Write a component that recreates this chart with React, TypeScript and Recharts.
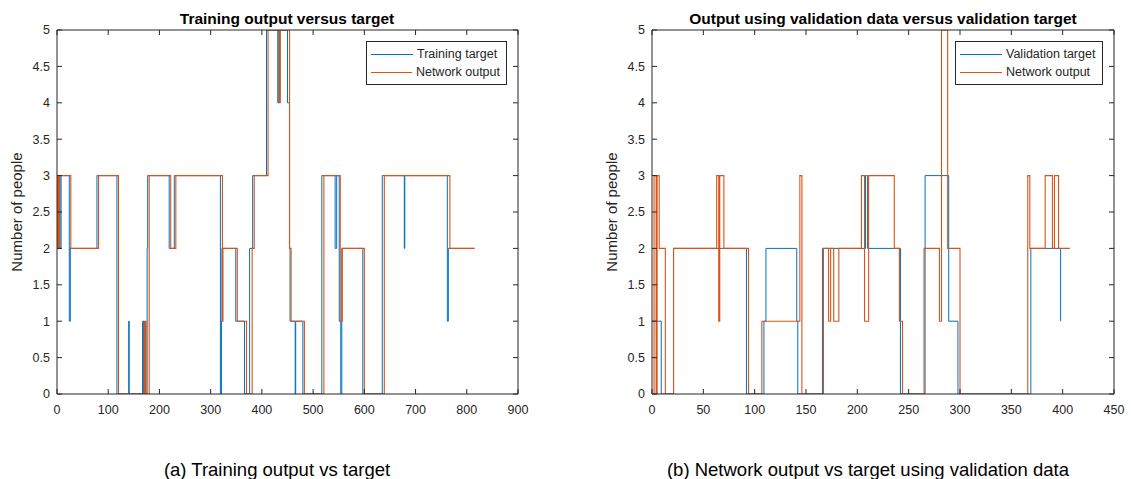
import React from 'react';
import { LineChart, Line, XAxis, YAxis, Legend } from 'recharts';

// step points [sample, value] (value holds until next point)
const trainTarget: [number, number][] = [
  [0, 3], [6, 2], [8, 3], [24, 1], [26, 2], [78, 3], [117, 0], [140, 1], [141, 0],
  [167, 1], [169, 0], [176, 2], [177, 3], [219, 2], [229, 3], [319, 0], [321, 1],
  [322, 2], [349, 1], [366, 0], [376, 2], [382, 3], [409, 5], [431, 4], [433, 5],
  [450, 4], [454, 2], [455, 1], [465, 0], [466, 1], [480, 0], [517, 3], [543, 2],
  [546, 3], [551, 1], [554, 0], [556, 2], [597, 0], [635, 3], [678, 2], [679, 3],
  [762, 1], [764, 2], [815, 2],
];
const trainOutput: [number, number][] = [
  [0, 2], [1, 3], [2, 2], [3, 3], [4, 2], [5, 3], [27, 2], [81, 3], [120, 0],
  [170, 1], [172, 0], [173, 1], [174, 0], [180, 3], [222, 2], [232, 3], [323, 1],
  [324, 2], [352, 1], [370, 0], [381, 2], [385, 3], [412, 5], [434, 4], [436, 5],
  [454, 2], [457, 1], [483, 0], [521, 3], [553, 1], [557, 2], [600, 0], [639, 3],
  [767, 2], [815, 2],
];
const valTarget: [number, number][] = [
  [0, 1], [9, 0], [21, 2], [92, 0], [109, 1], [111, 2], [141, 1], [142, 0],
  [166, 2], [208, 3], [210, 2], [242, 0], [266, 3], [289, 1], [298, 0], [369, 2],
  [398, 1],
];
const valOutput: [number, number][] = [
  [0, 0], [2, 3], [4, 0], [5, 3], [7, 2], [13, 0], [21, 2], [63, 3], [65, 1],
  [66, 3], [70, 2], [94, 0], [107, 1], [144, 3], [146, 0], [167, 2], [172, 1],
  [174, 2], [177, 1], [182, 2], [204, 3], [207, 1], [211, 3], [236, 2], [241, 1],
  [244, 0], [265, 2], [280, 1], [282, 5], [288, 2], [300, 0], [366, 3], [368, 2],
  [383, 3], [390, 2], [392, 3], [396, 2], [407, 2],
];

const trainTicks = [0, 100, 200, 300, 400, 500, 600, 700, 800, 900];
const valTicks = [0, 50, 100, 150, 200, 250, 300, 350, 400, 450];
const yTicks = [0, 0.5, 1, 1.5, 2, 2.5, 3, 3.5, 4, 4.5, 5];

const BLUE = '#0072BD';
const ORANGE = '#D95319';
const AXIS = '#262626';
const FONT = '"Liberation Sans", Arial, Helvetica, sans-serif';

const toPoints = (pairs: [number, number][]) => pairs.map(([x, y]) => ({ x, y }));

const BoxLegend = ({ payload, order }: any) => {
  const items = [...(payload || [])].sort(
    (a: any, b: any) => order.indexOf(a.value) - order.indexOf(b.value)
  );
  return (
    <div
      style={{
        border: '1px solid #262626',
        background: '#fff',
        padding: '3px 6px 3px 4px',
        fontFamily: FONT,
        fontSize: 12.5,
        color: AXIS,
        lineHeight: '18px',
      }}
    >
      {items.map((p: any) => (
        <div key={p.value} style={{ display: 'flex', alignItems: 'center', whiteSpace: 'nowrap' }}>
          <span style={{ display: 'inline-block', width: 42, height: 0, borderTop: `1.2px solid ${p.color}`, marginRight: 4 }} />
          {p.value}
        </div>
      ))}
    </div>
  );
};

type PanelProps = {
  left: number;
  width: number;
  marginRight: number;
  xMax: number;
  xTicks: number[];
  target: [number, number][];
  output: [number, number][];
  targetName: string;
  legendLeft: number;
  legendWidth: number;
};

const Panel = (p: PanelProps) => {
  const tickStyle = { fontSize: 12.5, fill: AXIS, fontFamily: FONT };
  return (
    <div style={{ position: 'absolute', left: p.left, top: 0, width: p.width, height: 450 }}>
      <LineChart width={p.width} height={450} margin={{ top: 29, right: p.marginRight - 1, bottom: 26, left: 0 }}>
        <XAxis
          type="number"
          dataKey="x"
          domain={[0, p.xMax]}
          ticks={p.xTicks}
          allowDataOverflow
          height={30}
          stroke={AXIS}
          tickSize={-5}
          tickMargin={16}
          tick={tickStyle}
          interval={0}
        />
        <XAxis
          xAxisId="top"
          orientation="top"
          type="number"
          dataKey="x"
          domain={[0, p.xMax]}
          ticks={p.xTicks}
          allowDataOverflow
          height={1}
          stroke={AXIS}
          tickSize={-5}
          tickFormatter={() => ''}
          interval={0}
        />
        <YAxis
          type="number"
          domain={[0, 5]}
          ticks={yTicks}
          allowDataOverflow
          width={57}
          stroke={AXIS}
          tickSize={-5}
          tickMargin={12}
          tick={tickStyle}
          interval={0}
          label={{
            value: 'Number of people',
            angle: -90,
            position: 'insideLeft',
            offset: 17,
            style: { textAnchor: 'middle', fontSize: 15, fill: AXIS, fontFamily: FONT },
          }}
        />
        <YAxis
          yAxisId="right"
          orientation="right"
          type="number"
          domain={[0, 5]}
          ticks={yTicks}
          allowDataOverflow
          width={1}
          stroke={AXIS}
          tickSize={-5}
          tickFormatter={() => ''}
          interval={0}
        />
        <Legend
          layout="vertical"
          align="center"
          verticalAlign="middle"
          content={<BoxLegend order={[p.targetName, 'Network output']} />}
          wrapperStyle={{ left: p.legendLeft, top: 41, width: p.legendWidth, height: 'auto' }}
        />
        <Line
          name={p.targetName}
          data={toPoints(p.target)}
          dataKey="y"
          type="stepAfter"
          stroke={BLUE}
          strokeWidth={1}
          dot={false}
          isAnimationActive={false}
        />
        <Line
          name="Network output"
          data={toPoints(p.output)}
          dataKey="y"
          type="stepAfter"
          stroke={ORANGE}
          strokeWidth={1.1}
          dot={false}
          isAnimationActive={false}
        />
      </LineChart>
    </div>
  );
};

const Caption = ({ text, center, top, style }: { text: string; center: number; top: number; style: React.CSSProperties }) => (
  <div
    style={{
      position: 'absolute',
      left: center - 300,
      width: 600,
      top,
      textAlign: 'center',
      fontFamily: FONT,
      whiteSpace: 'nowrap',
      lineHeight: 1.15,
      color: '#000',
      ...style,
    }}
  >
    {text}
  </div>
);

export default function App() {
  const titleStyle: React.CSSProperties = { fontWeight: 'bold', fontSize: 15.5 };
  const captionStyle: React.CSSProperties = { fontSize: 18.5 };
  return (
    <div style={{ position: 'absolute', left: 0, top: 0, width: 1131, height: 479, background: '#fff' }}>
      <Panel
        left={0}
        width={565}
        marginRight={47}
        xMax={900}
        xTicks={trainTicks}
        target={trainTarget}
        output={trainOutput}
        targetName="Training target"
        legendLeft={366}
        legendWidth={141}
      />
      <Panel
        left={595}
        width={536}
        marginRight={17}
        xMax={450}
        xTicks={valTicks}
        target={valTarget}
        output={valOutput}
        targetName="Validation target"
        legendLeft={360}
        legendWidth={148}
      />
      <Caption text="Training output versus target" center={287} top={10} style={titleStyle} />
      <Caption text="Output using validation data versus validation target" center={883} top={10} style={titleStyle} />
      <Caption text="(a) Training output vs target" center={277} top={459} style={captionStyle} />
      <Caption text="(b) Network output vs target using validation data" center={868} top={459} style={captionStyle} />
    </div>
  );
}
